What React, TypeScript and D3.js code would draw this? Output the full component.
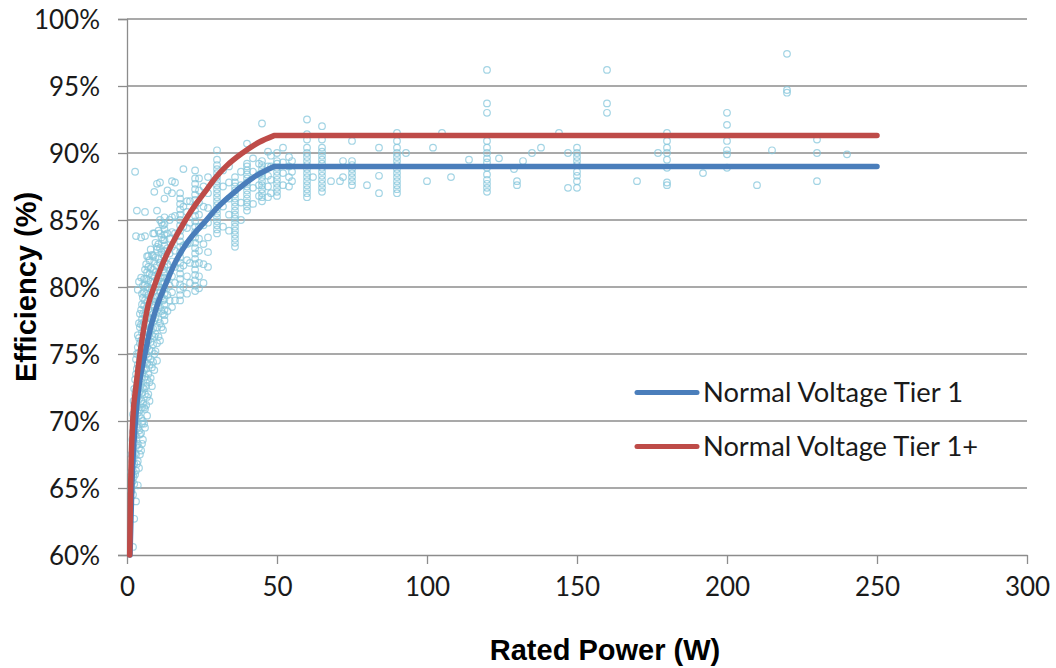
import React, { useRef, useEffect } from 'react';
import * as d3 from 'd3';

// tick values
const xTicks = [0, 50, 100, 150, 200, 250, 300];
const yTicks = [60, 65, 70, 75, 80, 85, 90, 95, 100];

// limit lines (power W, efficiency %)
const tier1Curve: [number, number][] = [
  [1, 60], [1.6, 65], [2.8, 70], [4, 72.6], [6, 75], [8, 77.1], [10, 78.6], [12.5, 80],
  [16, 81.8], [20, 83.3], [26.5, 85], [30, 85.9], [37, 87.3], [43, 88.3], [49, 89],
];
const tier1Flat: [number, number][] = [[49, 89], [250, 89]];

const tier1PlusCurve: [number, number][] = [
  [0.9, 60], [1.2, 65], [1.9, 70], [3, 72.6], [4.3, 75], [5.5, 76.8], [7, 78.6], [9.3, 80.2],
  [12, 81.8], [15, 83.2], [19.5, 85], [23, 86.2], [26, 87.1], [29.3, 88.1], [33, 89],
  [38.5, 90], [44, 90.8], [49, 91.3],
];
const tier1PlusFlat: [number, number][] = [[49, 91.3], [250, 91.3]];

// measured products: [rated power, efficiencies at that power]
const lowPowerPoints: [number, number[]][] = [
  [1.5, [64.8, 66.2, 67.5]],
  [1.8, [65.5, 67.0, 68.6]],
  [2, [60.6, 64.5, 66.0, 67.8, 69.2, 70.5]],
  [2.2, [65.8, 67.2, 68.8, 70.2, 71.5]],
  [2.4, [62.7, 65.3, 66.8, 68.4, 69.7, 71.2, 72.4]],
  [2.7, [66.0, 67.6, 69.0, 70.6, 72.0, 73.1, 88.6]],
  [3, [64.0, 66.3, 67.5, 68.9, 70.1, 71.0, 72.3, 73.5, 74.6, 83.8]],
  [3.3, [66.8, 68.2, 69.6, 71.1, 72.6, 73.9, 75.0, 85.7]],
  [3.6, [65.2, 67.0, 68.3, 69.5, 70.6, 71.8, 73.0, 74.2, 75.5, 76.4, 79.8]],
  [4, [66.5, 68.0, 69.3, 70.4, 71.6, 72.8, 73.9, 75.1, 76.2, 77.3, 80.4]],
  [4.3, [67.5, 69.0, 70.8, 72.2, 73.4, 74.6, 75.8, 77.0, 78.0]],
  [4.7, [67.8, 69.1, 70.2, 71.5, 72.7, 73.8, 75.0, 76.0, 77.2, 78.3, 80.7, 83.7]],
  [5, [68.3, 69.8, 71.0, 72.1, 73.2, 74.4, 75.5, 76.6, 77.6, 78.7, 79.5]],
  [5.3, [68.6, 70.0, 71.3, 72.5, 73.6, 74.8, 75.9, 77.1, 78.0, 79.2, 80.1]],
  [5.7, [69.8, 71.0, 72.4, 73.8, 75.2, 76.3, 77.4, 78.6, 79.6, 80.6]],
  [6, [69.5, 70.9, 72.0, 73.3, 74.4, 75.6, 76.7, 77.9, 79.0, 80.2, 81.3, 83.8, 85.6]],
  [6.4, [71.2, 72.6, 73.9, 75.0, 76.2, 77.3, 78.4, 79.5, 80.6, 81.7]],
  [6.7, [70.4, 71.8, 73.1, 74.3, 75.5, 76.6, 77.8, 78.9, 80.0, 81.1, 82.3]],
  [7.1, [72.0, 73.5, 74.8, 76.0, 77.2, 78.3, 79.4, 80.5, 81.5, 82.3]],
  [7.5, [71.5, 72.9, 74.2, 75.3, 76.5, 77.7, 78.8, 79.9, 81.0, 82.0]],
  [7.9, [73.2, 74.6, 75.9, 77.0, 78.1, 79.3, 80.4, 81.4, 82.8]],
  [8.3, [72.6, 74.0, 75.2, 76.4, 77.6, 78.7, 79.8, 80.9, 82.4]],
  [8.7, [74.4, 75.7, 76.9, 78.0, 79.2, 80.3, 81.3, 82.3, 84.0]],
  [9.1, [73.8, 75.0, 76.3, 77.5, 78.6, 79.7, 80.8, 81.9, 84.0, 87.1]],
  [9.5, [75.2, 76.5, 77.7, 78.9, 80.0, 81.1, 82.2, 83.3]],
  [10, [74.5, 75.8, 77.0, 78.2, 79.3, 80.5, 81.6, 82.8, 83.0, 85.7, 87.7]],
  [10.5, [76.3, 77.6, 78.8, 80.0, 81.0, 82.1, 83.2, 84.2]],
  [11, [76.0, 77.3, 78.5, 79.6, 80.7, 81.8, 82.9, 84.0, 85.0, 87.8]],
  [11.5, [77.0, 78.2, 79.3, 80.4, 81.5, 82.6, 83.7, 84.8]],
  [12, [76.8, 78.0, 79.0, 80.2, 81.3, 82.4, 83.5, 84.6]],
];

const midPowerPoints: [number, number[]][] = [
  [12.5, [77.5, 77.9, 78.3, 78.7, 79.1, 79.5, 79.9, 80.3, 80.7, 81.1, 81.5, 81.9, 82.3, 82.7, 83.1, 83.5, 83.9, 84.3, 84.7, 85.2, 86.6]],
  [13.5, [78.2, 79.4, 80.6, 81.7, 82.9, 84.0, 87.2]],
  [14.2, [79.0, 80.1, 81.2, 82.5, 83.6, 85.0]],
  [15, [78.5, 79.6, 80.8, 81.9, 83.0, 84.1, 85.2, 87.0, 87.9]],
  [16, [79.0, 80.3, 81.5, 82.7, 84.0, 85.3, 87.8]],
  [17.7, [79.0, 79.4, 79.8, 80.2, 80.6, 81.0, 81.4, 81.8, 82.2, 82.6, 83.0, 83.4, 83.8, 84.2, 84.6, 85.0, 85.4, 85.8, 86.2, 86.6, 87.0]],
  [18.8, [80.0, 81.6, 83.1, 84.5, 86.0, 88.8]],
  [20, [79.5, 80.8, 82.0, 83.2, 84.4, 85.6, 86.4]],
  [21, [80.3, 81.8, 83.3, 84.8, 86.4]],
  [22.7, [79.7, 80.1, 80.5, 80.9, 81.3, 81.7, 82.1, 82.5, 82.9, 83.3, 83.7, 84.1, 84.5, 84.9, 85.3, 85.7, 86.1, 86.5, 86.9, 87.3, 87.7, 88.1, 88.7]],
  [24, [79.9, 80.8, 81.8, 82.7, 83.6, 84.5, 85.4, 86.3, 87.2, 88.1]],
  [25.5, [80.3, 81.7, 83.2, 84.6, 86.0, 87.5]],
  [27, [81.5, 82.6, 83.7, 84.8, 85.9, 87.0, 88.2]],
  [30, [84.0, 84.3, 84.6, 84.9, 85.2, 85.5, 85.8, 86.1, 86.4, 86.7, 87.0, 87.3, 87.6, 87.9, 88.2, 88.5, 88.8, 89.1, 89.5, 90.2]],
  [32, [84.5, 86.0, 87.5, 88.7]],
  [34, [84.2, 85.4, 86.6, 87.8, 89.0]],
  [36, [83.0, 83.3, 83.6, 83.9, 84.2, 84.5, 84.8, 85.1, 85.4, 85.7, 86.0, 86.3, 86.6, 86.9, 87.2, 87.5, 87.8, 88.2]],
  [38, [85.0, 86.3, 87.6, 88.6]],
  [40, [85.7, 86.0, 86.3, 86.6, 86.9, 87.2, 87.5, 87.8, 88.1, 88.4, 88.7, 89.0, 89.2, 90.7]],
  [42, [86.2, 87.4, 88.6, 89.6]],
  [44, [86.8, 87.6, 88.4, 89.2]],
  [45, [86.4, 86.7, 87.0, 87.3, 87.6, 87.9, 88.2, 88.5, 88.8, 89.1, 89.4, 92.2]],
  [47, [86.7, 87.5, 88.3, 89.0, 90.1]],
  [48, [87.0, 88.0, 89.0, 89.8]],
  [50, [86.8, 87.1, 87.4, 87.7, 88.0, 88.3, 88.6, 88.9, 89.2, 89.4, 90.0]],
  [52, [87.6, 88.5, 89.3, 90.4]],
  [54, [87.5, 88.2, 89.0, 89.7]],
  [55, [87.9, 88.6, 89.4]],
];

const highPowerPoints: [number, number[]][] = [
  [60, [86.7, 87.0, 87.3, 87.6, 87.9, 88.2, 88.5, 88.8, 89.1, 89.4, 89.7, 90.0, 90.4, 91.0, 91.4, 92.5]],
  [62, [88.2]],
  [65, [87.1, 87.4, 87.7, 88.0, 88.3, 88.6, 88.9, 89.2, 89.5, 89.8, 90.1, 90.4, 91.0, 92.0]],
  [68, [87.9]],
  [71, [87.9]],
  [72, [88.2, 89.4]],
  [75, [87.6, 87.9, 88.2, 88.5, 88.8, 89.1, 89.4, 90.9]],
  [80, [87.6]],
  [84, [87.0, 88.3, 90.4]],
  [90, [87.0, 87.3, 87.6, 87.9, 88.2, 88.5, 88.8, 89.1, 89.4, 89.7, 90.0, 90.4, 90.9, 91.5]],
  [93, [90.0]],
  [100, [87.9]],
  [102, [90.4]],
  [105, [91.5]],
  [108, [88.2]],
  [114, [89.5]],
  [120, [87.1, 87.4, 87.7, 88.0, 88.4, 88.9, 89.3, 89.6, 90.0, 90.4, 90.9, 93.0, 93.7, 96.2]],
  [124, [89.6]],
  [129, [88.8]],
  [130, [87.6, 87.9]],
  [132, [89.4]],
  [135, [90.0]],
  [138, [90.4]],
  [144, [91.5]],
  [147, [87.4, 90.0]],
  [150, [87.4, 87.9, 88.3, 88.6, 89.1, 89.4, 89.7, 90.0, 90.4]],
  [160, [93.0, 93.7, 96.2]],
  [170, [87.9]],
  [177, [90.0]],
  [180, [87.6, 87.8, 88.9, 89.5, 90.0, 90.4, 90.9, 91.5]],
  [192, [88.5]],
  [200, [88.9, 89.9, 90.2, 90.9, 92.1, 93.0]],
  [210, [87.6]],
  [215, [90.2]],
  [220, [94.5, 94.7, 97.4]],
  [230, [87.9, 90.0, 91.0]],
  [240, [89.9]],
];

const seriesNames = ['Normal Voltage Tier 1', 'Normal Voltage Tier 1+'];
const seriesColors = ['#4a7ebb', '#be4b48'];

const Chart = () => {
  const ref = useRef<SVGSVGElement>(null);

  useEffect(() => {
    const svg = d3.select(ref.current);
    svg.selectAll('*').remove();

    const x = d3.scaleLinear().domain([0, 300]).range([127, 1027]);
    const y = d3.scaleLinear().domain([60, 100]).range([555, 19]);
    const tickFont = 'Lato, "Open Sans", sans-serif';

    // gridlines
    svg.append('g')
      .selectAll('line')
      .data(yTicks.slice(1))
      .join('line')
      .attr('x1', x(0)).attr('x2', x(300))
      .attr('y1', d => y(d)).attr('y2', d => y(d))
      .attr('stroke', '#8c8c8c').attr('stroke-width', 1.3);

    const yAxis = svg.append('g')
      .attr('transform', `translate(${x(0)},0)`)
      .call(d3.axisLeft(y).tickValues(yTicks).tickSize(9).tickFormat(d => `${d}%`));
    yAxis.select('.domain').attr('stroke', '#8c8c8c').attr('stroke-width', 1.3);
    yAxis.selectAll('line').attr('stroke', '#8c8c8c').attr('stroke-width', 1.3);
    yAxis.selectAll('text')
      .attr('x', -27).attr('dy', '0.35em')
      .attr('fill', '#1a1a1a').style('font-family', tickFont).style('font-size', '26px');

    const xAxis = svg.append('g')
      .attr('transform', `translate(0,${y(60)})`)
      .call(d3.axisBottom(x).tickValues(xTicks).tickSize(9).tickSizeOuter(0));
    xAxis.select('.domain').attr('stroke', '#8c8c8c').attr('stroke-width', 1.3);
    xAxis.selectAll('line').attr('stroke', '#8c8c8c').attr('stroke-width', 1.3);
    xAxis.selectAll('text')
      .attr('y', 32).attr('dy', '0.35em')
      .attr('fill', '#1a1a1a').style('font-family', tickFont).style('font-size', '26px');

    // scatter of measured products
    const points = [...lowPowerPoints, ...midPowerPoints, ...highPowerPoints]
      .flatMap(([p, effs]) => effs.map(e => [p, e] as [number, number]));
    svg.append('g')
      .selectAll('circle')
      .data(points)
      .join('circle')
      .attr('cx', d => x(d[0]))
      .attr('cy', d => y(d[1]))
      .attr('r', 3.3)
      .attr('fill', 'none')
      .attr('stroke', '#84c6db')
      .attr('stroke-width', 1.2)
      .attr('opacity', 0.75);

    // limit lines
    const curve = d3.line<[number, number]>()
      .x(d => x(d[0])).y(d => y(d[1]))
      .curve(d3.curveMonotoneX);
    const straight = d3.line<[number, number]>()
      .x(d => x(d[0])).y(d => y(d[1]));

    [[tier1Curve, tier1Flat], [tier1PlusCurve, tier1PlusFlat]].forEach(([c, f], i) => {
      svg.append('path')
        .attr('d', curve(c) + 'L' + straight(f)!.slice(1))
        .attr('fill', 'none')
        .attr('stroke', seriesColors[i])
        .attr('stroke-width', 5.5)
        .attr('stroke-linecap', 'round')
        .attr('stroke-linejoin', 'round');
    });

    // legend
    const legend = svg.append('g');
    const legendWidths = [260, 275];
    seriesNames.forEach((name, i) => {
      const ly = 392.5 + i * 54;
      legend.append('line')
        .attr('x1', 637).attr('x2', 697)
        .attr('y1', ly).attr('y2', ly)
        .attr('stroke', seriesColors[i])
        .attr('stroke-width', 5)
        .attr('stroke-linecap', 'round');
      legend.append('text')
        .attr('x', 703).attr('y', ly).attr('dy', '0.35em')
        .attr('fill', '#1a1a1a')
        .attr('textLength', legendWidths[i])
        .attr('lengthAdjust', 'spacingAndGlyphs')
        .style('font-family', tickFont).style('font-size', '26px')
        .text(name);
    });

    // axis titles
    svg.append('text')
      .attr('transform', `translate(36,287) rotate(-90)`)
      .attr('text-anchor', 'middle')
      .style('font-family', '"Liberation Sans", Arial, sans-serif')
      .style('font-weight', 'bold').style('font-size', '29px')
      .attr('fill', '#000')
      .text('Efficiency (%)');

    svg.append('text')
      .attr('x', 605).attr('y', 660)
      .attr('text-anchor', 'middle')
      .style('font-family', '"Liberation Sans", Arial, sans-serif')
      .style('font-weight', 'bold').style('font-size', '29px')
      .attr('fill', '#000')
      .text('Rated Power (W)');
  }, []);

  return (
    <svg ref={ref} width={1056} height={668}
      style={{ position: 'absolute', left: 0, top: 0, background: '#fff' }} />
  );
};

export default function App() {
  return <Chart />;
}
